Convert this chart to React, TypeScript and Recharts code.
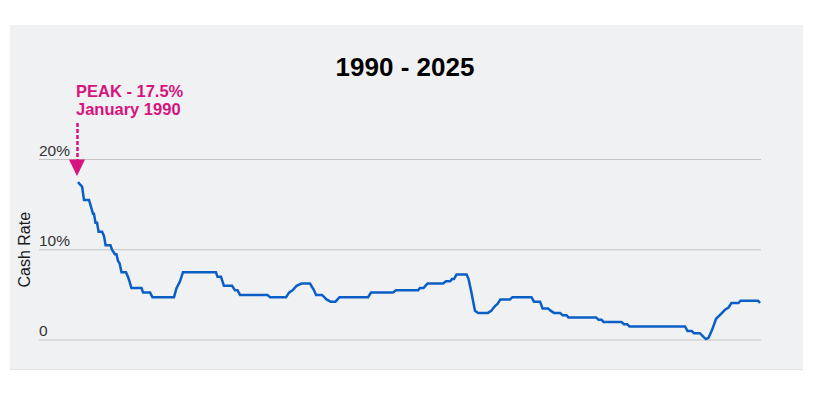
import { CartesianGrid, Line, LineChart, ReferenceDot, XAxis, YAxis } from "recharts";

// decimal year of each change
const years = [
  1990.0, 1990.1, 1990.21, 1990.31, 1990.57, 1990.67, 1990.77, 1990.82, 1990.9, 1990.98,
  1991.06, 1991.24, 1991.34, 1991.42, 1991.67, 1991.75, 1991.9, 1991.98, 1992.06, 1992.14,
  1992.24, 1992.47, 1992.57, 1992.65, 1992.75, 1993.27, 1993.35, 1993.71, 1993.83, 1994.94,
  1995.07, 1995.25, 1995.4, 1997.1, 1997.18, 1997.36, 1997.51, 1997.93, 1998.08, 1998.21,
  1998.34, 1999.75, 1999.88, 2000.71, 2000.86, 2001.04, 2001.25, 2001.5, 2001.94, 2002.15,
  2002.25, 2002.56, 2002.79, 2003.0, 2003.25, 2003.46, 2004.93, 2005.08, 2006.21, 2006.37,
  2007.5, 2007.6, 2007.78, 2007.88, 2007.99, 2008.79, 2008.94, 2009.15, 2009.25, 2009.35,
  2009.48, 2010.0, 2010.1, 2010.25, 2010.43, 2010.59, 2011.1, 2011.28, 2011.36, 2011.46,
  2011.59, 2011.74, 2012.23, 2012.36, 2013.34, 2013.47, 2013.78, 2013.91, 2014.19, 2014.32,
  2014.5, 2014.81, 2014.94, 2015.14, 2015.24, 2016.66, 2016.79, 2016.94, 2017.05, 2017.97,
  2018.1, 2018.26, 2018.38, 2021.24, 2021.37, 2021.58, 2021.7, 2022.01, 2022.19, 2022.32,
  2022.45, 2022.63, 2022.84, 2023.07, 2023.3, 2023.48, 2023.63, 2023.99, 2024.1, 2025.0,
  2025.1,
];

const cashRate = [
  17.5, 17.25, 17.0, 15.5, 15.5, 14.75, 14.0, 14.0, 13.0, 13.0,
  12.0, 12.0, 11.5, 10.5, 10.5, 10.0, 9.5, 9.5, 8.75, 8.5,
  7.5, 7.5, 7.0, 6.5, 5.75, 5.75, 5.25, 5.25, 4.75, 4.75,
  5.75, 6.5, 7.5, 7.5, 7.0, 7.0, 6.0, 6.0, 5.5, 5.5,
  5.0, 5.0, 4.75, 4.75, 5.25, 5.5, 6.0, 6.25, 6.25, 5.5,
  5.0, 5.0, 4.5, 4.25, 4.25, 4.75, 4.75, 5.25, 5.25, 5.5,
  5.5, 5.75, 5.75, 6.0, 6.25, 6.25, 6.5, 6.5, 6.75, 6.75,
  7.25, 7.25, 6.75, 5.25, 3.25, 3.0, 3.0, 3.25, 3.5, 3.75,
  4.0, 4.5, 4.5, 4.75, 4.75, 4.25, 4.25, 3.5, 3.5, 3.25,
  3.0, 3.0, 2.75, 2.75, 2.5, 2.5, 2.25, 2.25, 2.0, 2.0,
  1.75, 1.75, 1.5, 1.5, 1.0, 1.0, 0.75, 0.75, 0.35, 0.1,
  0.25, 1.1, 2.35, 2.85, 3.35, 3.6, 4.1, 4.1, 4.35, 4.35,
  4.1,
];

const yTicks = [0, 10, 20];
const title = "1990 - 2025";
const peak = { year: 1990, rate: 17.5, line1: "PEAK - 17.5%", line2: "January 1990" };

const data = years.map((year, i) => ({ year, rate: cashRate[i] }));

const FONT = "'Liberation Sans', Arial, Helvetica, sans-serif";
const PINK = "#d6137f";
const BLUE = "#0a5fc6";
const W = 793;
const H = 344;
const PLOT_LEFT = 29;
const margin = { top: 134.5, right: 42, bottom: 29, left: 0 };

function YTick({ y, payload }: any) {
  const v = payload.value;
  return (
    <text x={PLOT_LEFT} y={y - 4} fontSize={15.5} fill="#333" fontFamily={FONT} textAnchor="start">
      {v === 0 ? "0" : `${v}%`}
    </text>
  );
}

function PeakMarker({ cx, cy }: any) {
  if (cx == null || cy == null) return null;
  const ax = cx - 1;
  return (
    <g>
      <text x={cx - 2} y={cy - 85} fill={PINK} fontSize={16.5} fontWeight="bold" fontFamily={FONT}>
        {peak.line1}
      </text>
      <text x={cx - 2} y={cy - 67.5} fill={PINK} fontSize={16.5} fontWeight="bold" fontFamily={FONT}>
        {peak.line2}
      </text>
      <line x1={ax + 0.5} x2={ax + 0.5} y1={cy - 59} y2={cy - 22} stroke={PINK} strokeWidth={2.5} strokeDasharray="4 2" />
      <path d={`M${ax - 8},${cy - 22.5} L${ax + 8},${cy - 22.5} L${ax},${cy - 6} Z`} fill={PINK} />
    </g>
  );
}

function AxisTitle(props: any) {
  const vb = props.viewBox || {};
  const cy = (vb.y ?? margin.top) + (vb.height ?? 180) / 2;
  return (
    <text x={20} y={cy} transform={`rotate(-90 20 ${cy})`} textAnchor="middle" fontSize={16} fill="#1a1a1a" fontFamily={FONT}>
      Cash Rate
    </text>
  );
}

export default function App() {
  return (
    <div style={{ position: "relative", width: 806, height: 390, fontFamily: FONT }}>
      <div
        style={{
          position: "absolute",
          left: 2,
          top: 17,
          width: W,
          height: H,
          background: "#f0f1f3",
          boxShadow: "0 1px 0 #e2e3e5",
        }}
      >
        <svg width={W} height={60} style={{ position: "absolute", left: 0, top: 0 }}>
          <text x={395} y={51} textAnchor="middle" fontSize={26} fontWeight="bold" fill="#000" fontFamily={FONT}>
            {title}
          </text>
        </svg>
        <LineChart width={W} height={H} data={data} margin={margin} style={{ position: "absolute", left: 0, top: 0 }}>
          <CartesianGrid vertical={false} stroke="#c4c4c4" />
          <XAxis type="number" dataKey="year" domain={[1990, 2025.1]} padding={{ left: 39, right: 1 }} hide />
          <YAxis
            domain={[0, 20]}
            ticks={yTicks}
            width={PLOT_LEFT}
            axisLine={false}
            tickLine={false}
            tick={<YTick />}
            label={{ content: <AxisTitle /> }}
          />
          <Line
            type="linear"
            dataKey="rate"
            stroke={BLUE}
            strokeWidth={2.5}
            dot={false}
            isAnimationActive={false}
          />
          <ReferenceDot x={peak.year} y={peak.rate} ifOverflow="visible" shape={<PeakMarker />} />
        </LineChart>
      </div>
    </div>
  );
}
